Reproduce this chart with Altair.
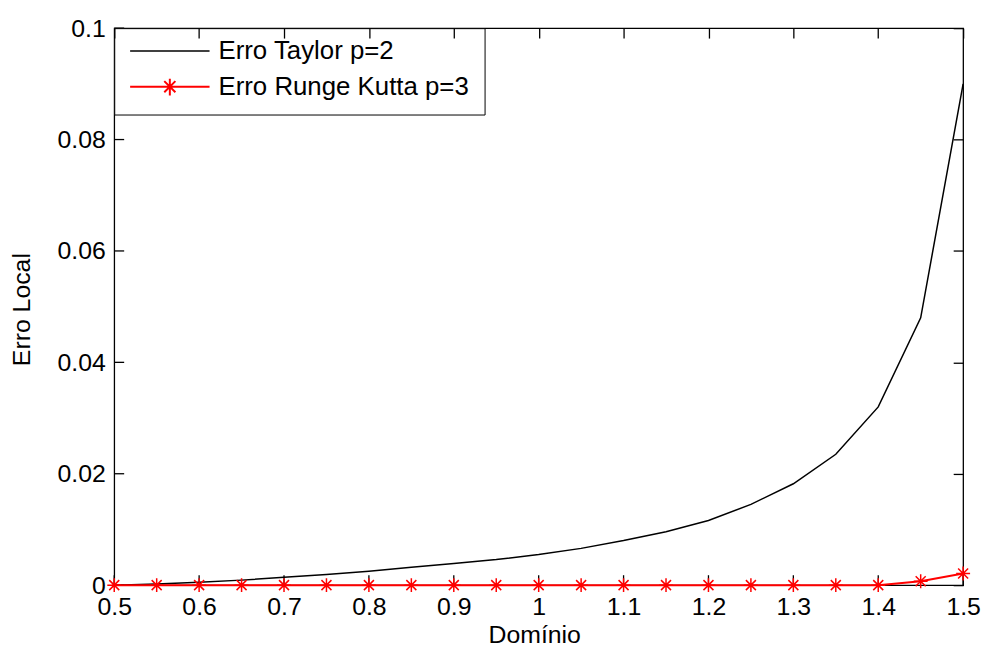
import altair as alt
import pandas as pd

FONT = "Liberation Sans"

x_vals = [0.5, 0.55, 0.6, 0.65, 0.7, 0.75, 0.8, 0.85, 0.9, 0.95, 1.0,
          1.05, 1.1, 1.15, 1.2, 1.25, 1.3, 1.35, 1.4, 1.45, 1.5]
taylor = [0.0, 0.0002, 0.0005, 0.0009, 0.0014, 0.0019, 0.0025, 0.0032, 0.0039, 0.0046, 0.0055,
          0.0066, 0.0080, 0.0096, 0.0116, 0.0145, 0.0182, 0.0235, 0.0320, 0.0480, 0.0900]
rk = [0.0, 0.0, 0.0, 0.0, 0.0, 0.0, 0.0, 0.0, 0.0, 0.0, 0.0,
      0.0, 0.0, 0.0, 0.0, 0.0, 0.0, 0.0, 0.0, 0.0007, 0.0021]
series_names = ["Erro Taylor p=2", "Erro Runge Kutta p=3"]
series_colors = ["black", "red"]
series_widths = [1.5, 2.0]
x_ticks = [0.5, 0.6, 0.7, 0.8, 0.9, 1.0, 1.1, 1.2, 1.3, 1.4, 1.5]
y_ticks = [0.0, 0.02, 0.04, 0.06, 0.08, 0.1]
x_title = "Domínio"
y_title = "Erro Local"

W, H = 855, 561
TICK = 10

df = pd.DataFrame({
    "x": x_vals + x_vals,
    "y": taylor + rk,
    "serie": [series_names[0]] * len(x_vals) + [series_names[1]] * len(x_vals),
})
df_rk = df[df["serie"] == series_names[1]]
df_xt = pd.DataFrame({"x": x_ticks})
df_yt = pd.DataFrame({"y": y_ticks})

xscale = alt.Scale(domain=[0.5, 1.5], nice=False, zero=False)
yscale = alt.Scale(domain=[0.0, 0.1], nice=False, zero=False)

ASTER = "M0,-1V1M-1,0H1M-0.72,-0.72L0.72,0.72M-0.72,0.72L0.72,-0.72"
LEG_LINE = "M-1,0H1"
LEG_ASTER = "M-1,0H1M0,-0.22V0.22M-0.14,-0.14L0.14,0.14M-0.14,0.14L0.14,-0.14"

tick_axis = dict(
    domain=False, grid=False, labels=False, title=None, tickColor="black",
    tickWidth=1.3, tickSize=TICK, zindex=1,
)
label_axis = dict(
    domain=False, grid=False, ticks=False, tickSize=0,
    labelFont=FONT, labelFontSize=25, labelColor="black", labelFlush=False,
    labelOverlap=False, titleFont=FONT, titleFontSize=25, titleColor="black",
    titleFontWeight="normal", titleBaseline="alphabetic",
)

legend = alt.Legend(
    title=None, orient="top-left", offset=0, direction="vertical", padding=15,
    strokeColor="black", fillColor="white",
    symbolSize=6400, symbolStrokeWidth=1.5, symbolFillColor="transparent",
    clipHeight=16, rowPadding=10, labelOffset=8, labelLimit=500,
    labelFont=FONT, labelFontSize=26, labelColor="black",
)

stroke_scale = alt.Scale(domain=series_names, range=series_colors)

# inward ticks on the bottom and left edges
ticks_bottom = alt.Chart(df_xt).mark_rule(color="black", strokeWidth=1.3).encode(
    x=alt.X("x:Q", scale=xscale, axis=None),
    y=alt.value(H), y2=alt.value(H - TICK),
)
ticks_left = alt.Chart(df_yt).mark_rule(color="black", strokeWidth=1.3).encode(
    y=alt.Y("y:Q", scale=yscale, axis=None),
    x=alt.value(0), x2=alt.value(TICK),
)

lines = alt.Chart(df).mark_line().encode(
    x=alt.X("x:Q", scale=xscale, axis=alt.Axis(
        orient="bottom", values=x_ticks, format=".1~f", labelPadding=10,
        title=x_title, titleX=423, titleY=58, **label_axis)),
    y=alt.Y("y:Q", scale=yscale, axis=alt.Axis(
        orient="left", values=y_ticks, format=".2~f", labelPadding=9,
        title=y_title, titleAngle=-90, titleX=-85, titleY=283, **label_axis)),
    stroke=alt.Stroke("serie:N", scale=stroke_scale, legend=legend),
    strokeWidth=alt.StrokeWidth("serie:N", scale=alt.Scale(domain=series_names, range=series_widths),
                                legend=None),
)

# asterisk markers; their axes give the inward ticks on the top and right edges
points = alt.Chart(df_rk).mark_point(shape=ASTER, size=196, filled=False,
                                     strokeWidth=1.5, color="red", opacity=1).encode(
    x=alt.X("x:Q", scale=xscale, axis=alt.Axis(orient="top", values=x_ticks, offset=-TICK, **tick_axis)),
    y=alt.Y("y:Q", scale=yscale, axis=alt.Axis(orient="right", values=y_ticks, offset=-TICK, **tick_axis)),
)

legend_layer = alt.Chart(df).transform_filter("false").mark_point(
    size=6400, filled=False, strokeWidth=1.5, opacity=1
).encode(
    x=alt.X("x:Q", scale=xscale, axis=None),
    y=alt.Y("y:Q", scale=yscale, axis=None),
    stroke=alt.Stroke("serie:N", scale=stroke_scale, legend=legend),
    shape=alt.Shape("serie:N", scale=alt.Scale(domain=series_names, range=[LEG_LINE, LEG_ASTER]),
                    legend=legend),
)

chart = alt.layer(ticks_bottom, ticks_left, lines, points, legend_layer).resolve_axis(
    x="independent", y="independent"
).properties(
    width=W, height=H,
    padding={"left": 107, "top": 18, "right": 18, "bottom": 59},
    autosize=alt.AutoSizeParams(type="none"),
    background="white",
).configure_view(stroke="black", strokeWidth=1.3)

chart.save("out.html", embed_options={"renderer": "svg", "actions": False})
